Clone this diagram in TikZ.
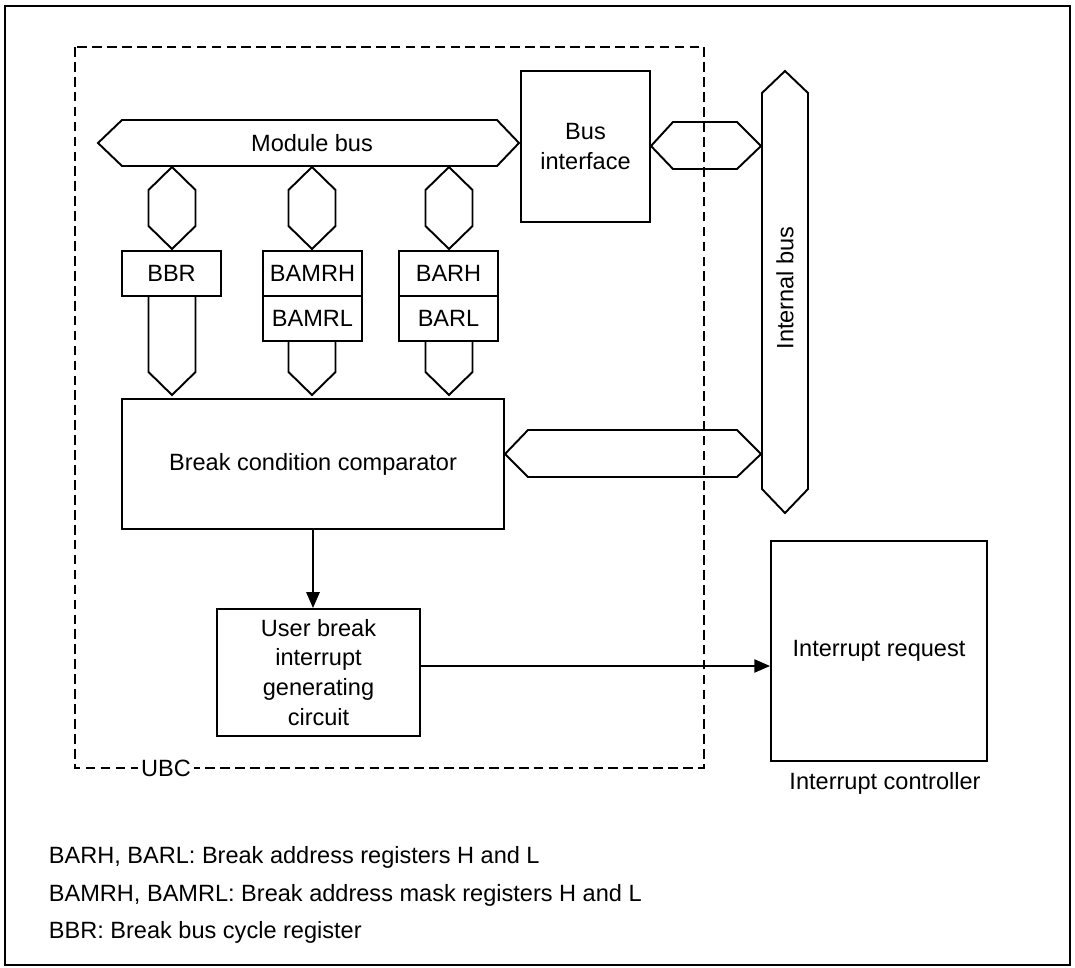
\documentclass[tikz,border=0pt]{standalone}
\usepackage{fontspec}
\setmainfont{Liberation Sans}
\usetikzlibrary{arrows.meta,positioning}
\tikzset{every path/.style={line width=1.1pt}, every node/.style={font=\fontsize{13.4}{17}\selectfont}}
\tikzset{reg/.style={draw, minimum width=1.98cm, minimum height=0.9cm, inner sep=0pt, outer sep=0pt},
  block/.style={draw, inner sep=0pt, align=center},
  sig/.style={-{Triangle[length=9pt,width=7.5pt]}}}

\begin{document}
\begin{tikzpicture}[x=0.02cm, y=-0.02cm]
   \useasboundingbox (0,0) rectangle (1075,967);
   \draw (5,6) rectangle (1070,965);
   % UBC boundary
   \draw[dash pattern=on 5.5pt off 3pt] (75,47) rectangle (704,768);
   \node[fill=white, inner sep=2pt] (ubc) at (166,768) {UBC};
   % buses
   \draw (98,143) -- (122,120) -- (497,120) -- (519,143) -- (497,166) -- (122,166) -- cycle;
   \node (modbus) at (312,143) {Module bus};
   \draw (651,146) -- (673,122) -- (737,122) -- (761,146) -- (737,169) -- (673,169) -- cycle;
   \draw (505,454) -- (528,430) -- (737,430) -- (761,454) -- (737,477) -- (528,477) -- cycle;
   \draw (785,71) -- (808,93) -- (808,489) -- (785,513) -- (762,489) -- (762,93) -- cycle;
   \node[rotate=90] (intbus) at (785,288) {Internal bus};
   \foreach \x in {172,312,449}
     \draw (\x,167) -- (\x+23.5,190) -- (\x+23.5,226) -- (\x,249) -- (\x-23.5,226) -- (\x-23.5,190) -- cycle;
   \foreach \x/\y in {172/296,312/341,449/341}
     \draw (\x-23.5,\y) -- (\x-23.5,372) -- (\x,395) -- (\x+23.5,372) -- (\x+23.5,\y);
   % registers
   \node[reg] (bbr) at (171.5,273.5) {BBR};
   \node[reg] (bamrh) at (312.5,273.5) {BAMRH};
   \node[reg, below=0pt of bamrh] (bamrl) {BAMRL};
   \node[reg] (barh) at (448.5,273.5) {BARH};
   \node[reg, below=0pt of barh] (barl) {BARL};
   % blocks
   \node[block, minimum width=2.58cm, minimum height=3.02cm] (busif) at (585.5,146.5) {Bus\\interface};
   \node[block, minimum width=7.64cm, minimum height=2.6cm] (comp) at (313,464) {Break condition comparator};
   \node[block, minimum width=4.06cm, minimum height=2.54cm] (ubrk) at (318.5,672.5) {User break\\interrupt\\generating\\circuit};
   \node[block, minimum width=4.32cm, minimum height=4.4cm] (intc) at (879,651) {Interrupt request};
   \node (intclbl) at (885,783) {Interrupt controller};
   \draw[sig] (comp.south) -- (comp.south |- ubrk.north);
   \draw[sig] ([yshift=0.13cm]ubrk.east) -- ([yshift=0.13cm]ubrk.east -| intc.west);
   % legend
   \node[anchor=base west, inner sep=0pt] (leg1) at (48,863) {BARH, BARL: Break address registers H and L};
   \node[anchor=base west, inner sep=0pt] (leg2) at (48,901) {BAMRH, BAMRL: Break address mask registers H and L};
   \node[anchor=base west, inner sep=0pt] (leg3) at (48,938) {BBR: Break bus cycle register};
\end{tikzpicture}
\end{document}
